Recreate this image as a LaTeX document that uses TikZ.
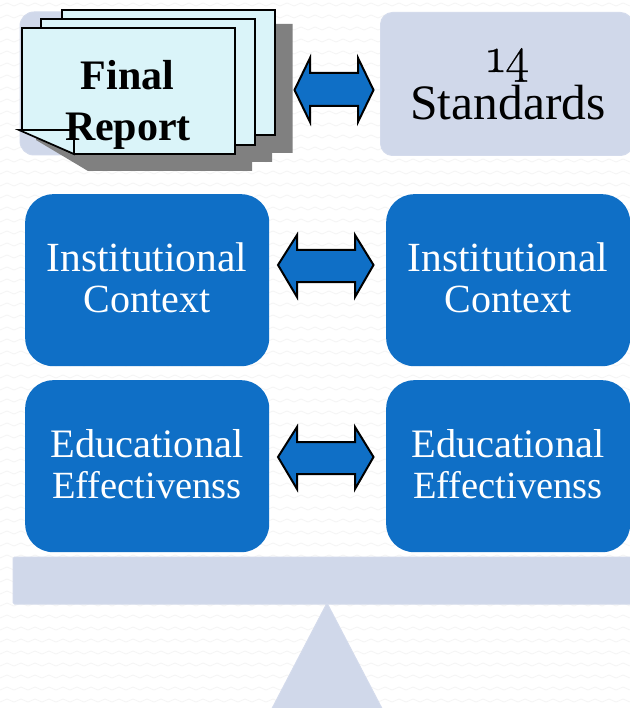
\documentclass[tikz,border=0pt]{standalone}
\usepackage{fontspec}
\setmainfont{Liberation Serif}
\newfontfamily\numfont[Numbers=OldStyle,FakeBold=0.7]{Latin Modern Roman}
\definecolor{lav}{HTML}{D0D8EA}
\definecolor{boxblue}{HTML}{0F6FC6}
\definecolor{paper}{HTML}{DAF4F9}
\tikzset{
  softbox/.style={fill=lav,draw=lav!92!white,line width=1pt},
  bluebox/.style={fill=boxblue,rounded corners=28pt,minimum width=244pt,minimum height=172pt,inner sep=0pt,anchor=north west},
  boxline/.style={text=white,inner sep=0pt,anchor=base,font=\fontsize{#1}{#1}\selectfont},
  sheet/.style={fill=paper,draw=black,line width=1.7pt},
  dblarrow/.style={fill=boxblue,draw=black,line width=2pt,line join=miter,miter limit=10}
}
\begin{document}
\begin{tikzpicture}[x=1pt,y=-1pt]
\useasboundingbox (0,0) rectangle (629,708);
\fill[white] (0,0) rectangle (629,708);
% faint background weave
\foreach \r in {0,...,58}{
  \draw[black!4,line width=0.8pt] (0,6+\r*12) \foreach \c in {0,...,45}{ -- ++(7,-3) -- ++(7,3)};
}
% left pan
\draw[softbox,rounded corners=14pt] (20,12) rectangle (120,155);
% right pan
\node[softbox,rounded corners=12pt,minimum width=252pt,minimum height=143pt,inner sep=0pt,anchor=north west] (standards) at (380,12) {};
\node[font=\fontsize{49.5}{50}\selectfont,inner sep=0pt,anchor=base] (stdtext) at (508,120) {Standards};
\node[font=\numfont\fontsize{50}{50}\selectfont,inner sep=0pt,anchor=base] (stdnum) at (508,72) {14};
% final report
\fill[black!50] (36,140) -- (88,171) -- (252,171) -- (252,162) -- (272,162) -- (272,153) -- (292.5,153) -- (292.5,24) -- (275,24) -- (62,24) -- cycle;
\draw[sheet] (62,10) rectangle (275,135);
\draw[sheet] (41,19) -- (255,19) -- (255,145) -- (74,145) -- (41,130) -- cycle;
\draw[sheet] (22,28) -- (235,28) -- (235,154) -- (74,154) -- (22,130) -- cycle;
\draw[sheet] (19,130) -- (74,130) -- (74,154) -- cycle;
\node[font=\bfseries\fontsize{42}{42}\selectfont,inner sep=0pt,anchor=base] (final) at (127.5,89.5) {Final};
\node[font=\bfseries\fontsize{42}{42}\selectfont,inner sep=0pt,anchor=base] (report) at (128,141) {Report};
% blue boxes
\node[bluebox] (ctxL) at (25,194) {};
\node[bluebox] (ctxR) at (386,194) {};
\node[bluebox] (effL) at (25,380) {};
\node[bluebox] (effR) at (386,380) {};
\node[boxline=41.5] (ctxLa) at (147,271) {Institutional};
\node[boxline=40] (ctxLb) at (147,312) {Context};
\node[boxline=41.5] (ctxRa) at (508,271) {Institutional};
\node[boxline=40] (ctxRb) at (508,312) {Context};
\node[boxline=40.4] (effLa) at (147,457) {Educational};
\node[boxline=38.5] (effLb) at (147,498) {Effectivenss};
\node[boxline=40.4] (effRa) at (508,457) {Educational};
\node[boxline=38.5] (effRb) at (508,498) {Effectivenss};
% double arrows
\draw[dblarrow] (294.5,90) -- (310,58) -- (310,73) -- (358,73) -- (358,58) -- (373.5,90) -- (358,122) -- (358,106) -- (310,106) -- (310,122) -- cycle;
\draw[dblarrow] (278,265) -- (297,235) -- (297,250) -- (355,250) -- (355,235) -- (373.5,265) -- (355,297) -- (355,282) -- (297,282) -- (297,297) -- cycle;
\draw[dblarrow] (278,457) -- (297,427) -- (297,442) -- (355,442) -- (355,427) -- (373.5,457) -- (355,489) -- (355,474) -- (297,474) -- (297,489) -- cycle;
% balance
\draw[softbox,rounded corners=1.5pt] (13,557) rectangle (640,604);
\draw[softbox] (327,603) -- (388,720) -- (266,720) -- cycle;
\end{tikzpicture}
\end{document}
